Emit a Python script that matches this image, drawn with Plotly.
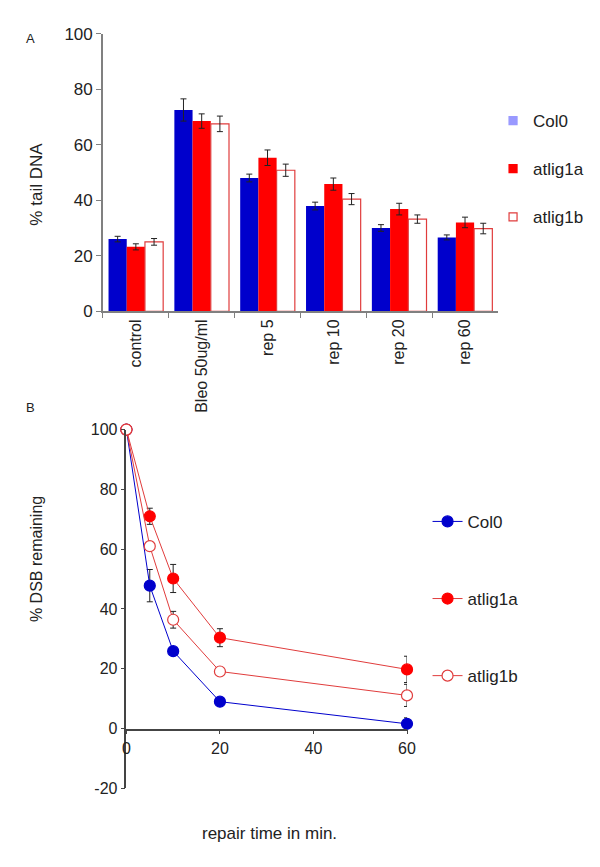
import plotly.graph_objects as go

# page is 600x867; plotly div sits inside the default 8px body margin,
# so the figure is shrunk to fit and all positions are given in page pixels
PAGE_W, PAGE_H = 600, 867
OFF = 8
W, H = PAGE_W - 2 * OFF, PAGE_H - 2 * OFF

# ── Panel A data: % tail DNA ─────────────────────────────
categories = ['control', 'Bleo 50ug/ml', 'rep 5', 'rep 10', 'rep 20', 'rep 60']
col0_tail = [26.0, 72.5, 48.0, 37.9, 30.0, 26.6]
col0_tail_err = [1.0, 4.0, 1.4, 1.4, 1.2, 0.9]
lig1a_tail = [23.2, 68.5, 55.3, 45.8, 36.8, 32.0]
lig1a_tail_err = [1.1, 2.6, 2.8, 2.2, 2.1, 1.9]
lig1b_tail = [25.0, 67.5, 50.8, 40.4, 33.2, 29.8]
lig1b_tail_err = [1.2, 2.8, 2.2, 2.0, 1.5, 1.9]

# ── Panel B data: % DSB remaining ────────────────────────
repair_time = [0, 5, 10, 20, 60]
col0_dsb = [100, 47.8, 25.9, 9.0, 1.6]
col0_dsb_err = [0, 5.4, 1.0, 1.0, 2.0]
lig1a_dsb = [100, 71.0, 50.2, 30.4, 19.8]
lig1a_dsb_err = [0, 2.7, 4.7, 3.0, 4.4]
lig1b_dsb = [100, 61.0, 36.4, 19.1, 11.1]
lig1b_dsb_err = [0, 1.0, 2.8, 1.0, 3.7]

dsb_ticks = [-20, 0, 20, 40, 60, 80, 100]
dsb_ticktext = ['-20', '0', '20', '40', '60', '80', '100']
time_ticks = [0, 20, 40, 60]

BLUE = '#0000CC'
RED = '#FF0000'
RED_LINE = '#E03C3C'
AXIS_A = '#808080'
AXIS_B = '#444444'
ERR = '#222222'
FONT = 'Liberation Sans, Arial, sans-serif'


def px_x(p):
    return (p - OFF) / W


def px_y(p):
    return 1 - (p - OFF) / H


fig = go.Figure()

err = lambda v: dict(type='data', array=v, color=ERR, thickness=1, width=3)

fig.add_trace(go.Bar(x=categories, y=col0_tail, error_y=err(col0_tail_err),
                     marker=dict(color=BLUE, line=dict(width=0)),
                     showlegend=False, xaxis='x', yaxis='y'))
fig.add_trace(go.Bar(x=categories, y=lig1a_tail, error_y=err(lig1a_tail_err),
                     marker=dict(color=RED, line=dict(width=0)),
                     showlegend=False, xaxis='x', yaxis='y'))
fig.add_trace(go.Bar(x=categories, y=lig1b_tail, error_y=err(lig1b_tail_err),
                     marker=dict(color='white', line=dict(color=RED_LINE, width=1.2)),
                     showlegend=False, xaxis='x', yaxis='y'))

# legend entries for panel A (small squares)
for name, fill, edge in [('Col0', '#9999FF', '#9999FF'),
                         ('atlig1a', RED, RED),
                         ('atlig1b', 'white', RED_LINE)]:
    fig.add_trace(go.Scatter(x=[None], y=[None], mode='markers', name=name,
                             marker=dict(symbol='square', size=8, color=fill,
                                         line=dict(color=edge, width=1.2)),
                             legend='legend', legendgroup='a' + name,
                             xaxis='x', yaxis='y'))

# ── Panel B lines ────────────────────────────────────────
for name, ys, es, fill, line_c in [('Col0', col0_dsb, col0_dsb_err, BLUE, BLUE),
                                   ('atlig1a', lig1a_dsb, lig1a_dsb_err, RED, RED_LINE),
                                   ('atlig1b', lig1b_dsb, lig1b_dsb_err, 'white', RED_LINE)]:
    fig.add_trace(go.Scatter(
        x=repair_time, y=ys, name=name, mode='lines+markers',
        error_y=dict(type='data', array=es, color=ERR, thickness=1, width=3),
        line=dict(color=line_c, width=1),
        marker=dict(size=11, color=fill,
                    line=dict(color=line_c if fill == 'white' else fill, width=1.2)),
        cliponaxis=False, legend='legend2', legendgroup='b' + name,
        xaxis='x2', yaxis='y2'))


def label(text, x, y, size, angle=0):
    return dict(text=text, x=px_x(x), y=px_y(y), xref='paper', yref='paper',
                xanchor='center', yanchor='middle', showarrow=False,
                textangle=angle, font=dict(size=size))


fig.update_layout(
    width=W, height=H,
    margin=dict(l=0, r=0, t=0, b=0),
    paper_bgcolor='white', plot_bgcolor='white',
    font=dict(family=FONT, size=17, color='#222222'),
    barmode='group', bargap=0.17, bargroupgap=0,
    xaxis=dict(domain=[px_x(101), px_x(505)], anchor='y', showline=True, linecolor=AXIS_A,
               linewidth=1.5, ticks='outside', tickson='boundaries', ticklen=5,
               tickcolor=AXIS_A, tickangle=-90, tickfont=dict(size=16), showgrid=False),
    yaxis=dict(domain=[px_y(309), px_y(25)], anchor='x', range=[0, 100], dtick=20,
               showline=True, linecolor=AXIS_A, linewidth=1.5, ticks='outside', ticklen=5,
               tickcolor=AXIS_A, showgrid=False, zeroline=False, tickfont=dict(size=17)),
    xaxis2=dict(domain=[px_x(125), px_x(412)], anchor='free', position=px_y(737),
                range=[0, 60], tickvals=time_ticks, showline=True, linecolor=AXIS_B,
                linewidth=1.5, ticks='outside', ticklen=4, tickcolor=AXIS_B,
                showgrid=False, zeroline=False, tickfont=dict(size=16)),
    yaxis2=dict(domain=[px_y(797), px_y(430)], anchor='x2', range=[-20, 100],
                tickvals=dsb_ticks, ticktext=dsb_ticktext,
                showline=True, linecolor=AXIS_B, linewidth=1.5, ticks='outside', ticklen=4,
                tickcolor=AXIS_B, showgrid=False, zeroline=False, tickfont=dict(size=16)),
    legend=dict(x=px_x(500), y=px_y(96), xanchor='left', yanchor='top',
                bgcolor='rgba(0,0,0,0)', font=dict(size=17), tracegroupgap=23,
                itemwidth=30),
    legend2=dict(x=px_x(433), y=px_y(506), xanchor='left', yanchor='top',
                 bgcolor='rgba(0,0,0,0)', font=dict(size=17), tracegroupgap=52,
                 itemwidth=30),
    annotations=[
        label('A', 27, 30, 13),
        label('B', 27, 407, 13),
        label('% tail DNA', 33, 179, 17, -90),
        label('% DSB remaining', 33, 562, 16, -90),
        label('repair time in min.', 271, 843, 17),
    ],
)

fig.write_html('out.html')
